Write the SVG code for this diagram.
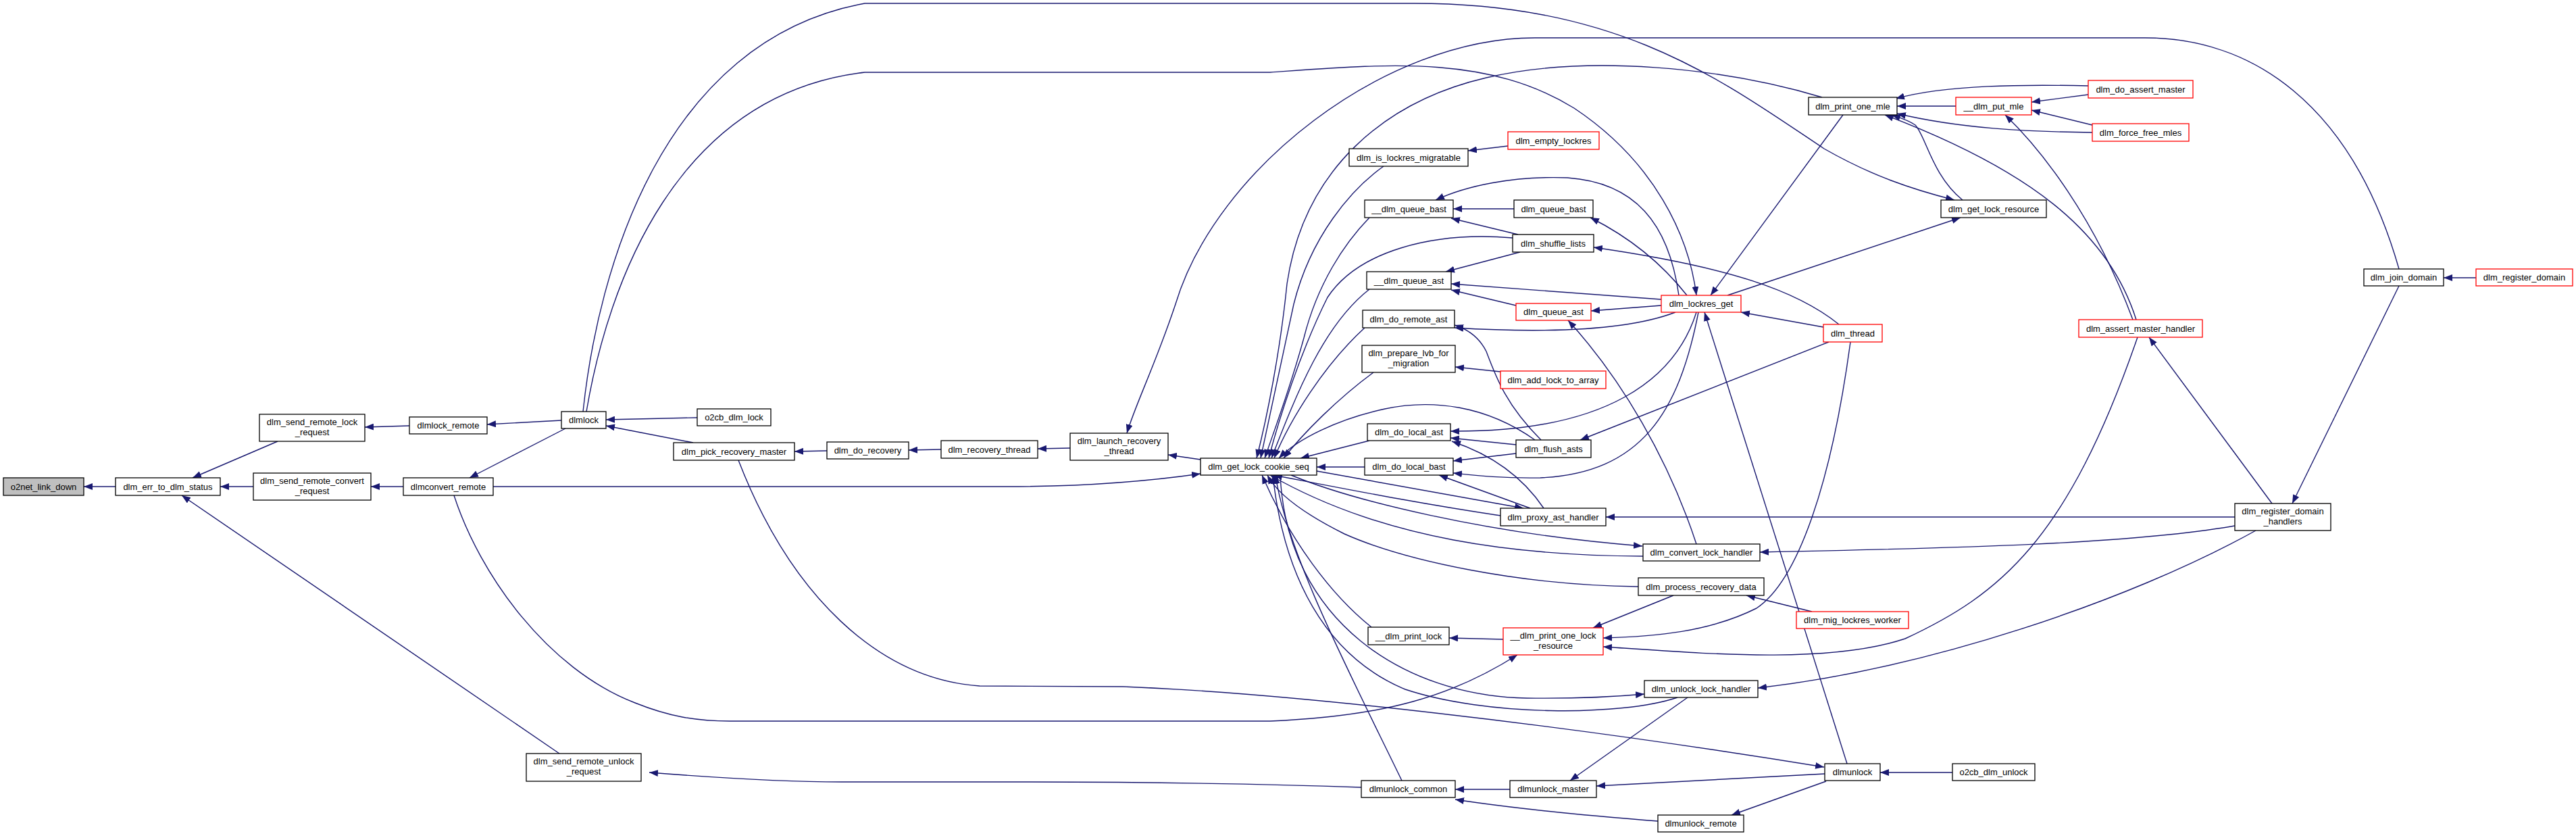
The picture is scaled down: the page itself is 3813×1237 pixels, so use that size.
<svg xmlns="http://www.w3.org/2000/svg" width="3813" height="1237" viewBox="0 0 3813 1237">
<style>
.n rect{fill:#fff;stroke:#000;stroke-width:1.3}
.r rect{stroke:#f00}
.g rect{fill:#bfbfbf}
text{font-family:"Liberation Sans",Arial,sans-serif;font-size:13px;text-anchor:middle;fill:#000}
.e path{fill:none;stroke:#191970;stroke-width:1.4;marker-end:url(#a)}
</style>
<defs>
<marker id="a" markerUnits="userSpaceOnUse" markerWidth="13" markerHeight="10" refX="13" refY="5" orient="auto"><path d="M0,0L13,5L0,10z" fill="#191970"/></marker>
</defs>
<rect width="3813" height="1237" fill="#fff"/>
<g id="edges" class="e">
<path d="M171,720L124,720"/>
<path d="M411,653L285,707"/>
<path d="M375,720L326,720"/>
<path d="M828,1115L269,733"/>
<path d="M606,630L540,632"/>
<path d="M831,622L721,628"/>
<path d="M837,634L695,707"/>
<path d="M597,720L549,720"/>
<path d="M1032,618L897,621"/>
<path d="M1026,655L897,630"/>
<path d="M1224,667L1176,668"/>
<path d="M1393,665L1345,666"/>
<path d="M1584,663L1536,664"/>
<path d="M1777,680L1729,673"/>
<path d="M730,720L1491,720C1600,720 1700,712 1777,701"/>
<path d="M672,733C710,850 810,990 940,1040C990,1060 1030,1067 1080,1067L1880,1067C2050,1060 2150,1030 2246,969"/>
<path d="M863,609C885,400 980,60 1280,5L2094,5C2400,5 2550,120 2700,220C2770,260 2830,280 2893,296"/>
<path d="M868,609C900,420 1000,140 1280,107L1880,107C2050,95 2200,80 2330,160C2450,240 2500,350 2511,437"/>
<path d="M3551,398C3480,150 3330,56 3175,56L2272,56C2050,56 1800,250 1740,450C1710,540 1680,600 1668,641"/>
<path d="M2697,144C2550,100 2350,80 2200,115C2050,150 1930,250 1905,420C1895,520 1875,620 1860,678"/>
<path d="M2048,246C2000,280 1940,350 1915,450C1895,540 1878,620 1866,678"/>
<path d="M2232,216L2173,223"/>
<path d="M2027,322C1990,360 1950,420 1930,500C1908,580 1885,640 1872,678"/>
<path d="M2239,352C2120,342 2010,372 1965,440C1925,520 1893,620 1878,678"/>
<path d="M2247,347L2148,323"/>
<path d="M2250,373L2140,402"/>
<path d="M2241,309L2151,309"/>
<path d="M2485,437C2470,330 2420,270 2320,263C2240,260 2170,275 2125,296"/>
<path d="M2497,437C2460,390 2410,350 2354,322"/>
<path d="M2728,170L2532,437"/>
<path d="M2722,480C2660,430 2560,395 2359,366"/>
<path d="M2557,437L2902,322"/>
<path d="M2905,296C2860,260 2850,200 2835,185C2825,178 2812,174 2800,170"/>
<path d="M3162,473C3120,340 3000,250 2790,170"/>
<path d="M3157,473C3100,320 3020,220 2968,170"/>
<path d="M3091,127C3000,125 2880,125 2806,146"/>
<path d="M2895,157L2808,157"/>
<path d="M3097,196C3000,195 2900,190 2808,168"/>
<path d="M3091,140L3007,151"/>
<path d="M3097,185L3007,163"/>
<path d="M3665,411L3617,411"/>
<path d="M3551,423L3393,745"/>
<path d="M3363,745L3181,499"/>
<path d="M3164,499C3060,800 2960,880 2820,945C2700,985 2500,965 2373,957"/>
<path d="M3308,765L2377,765"/>
<path d="M3308,778C3150,805 2900,811 2605,817"/>
<path d="M3339,785C3150,890 2850,990 2602,1018"/>
<path d="M2459,443L2148,420"/>
<path d="M2459,452L2355,460"/>
<path d="M2244,452L2148,429"/>
<path d="M2480,462C2420,485 2320,495 2153,485"/>
<path d="M2281,651C2230,600 2215,560 2200,520C2190,500 2175,488 2153,481"/>
<path d="M2221,550L2154,543"/>
<path d="M2699,484L2577,462"/>
<path d="M2734,1130L2523,462"/>
<path d="M2511,462C2480,560 2380,640 2147,638"/>
<path d="M2514,462C2485,610 2430,700 2280,707C2220,708 2180,703 2151,700"/>
<path d="M2511,805C2470,680 2400,560 2321,474"/>
<path d="M2707,506L2339,651"/>
<path d="M2739,506C2710,720 2660,860 2600,900C2530,935 2450,942 2373,944"/>
<path d="M2244,658L2147,648"/>
<path d="M2244,671L2151,682"/>
<path d="M2272,651C2200,600 2120,590 2050,605C1980,620 1920,650 1893,678"/>
<path d="M2027,652L1925,678"/>
<path d="M2020,691L1949,691"/>
<path d="M1949,697L2255,752"/>
<path d="M2265,752L2130,703"/>
<path d="M2285,752C2250,700 2200,670 2149,653"/>
<path d="M2221,763C2100,745 2000,725 1885,703"/>
<path d="M1911,703C2000,740 2200,790 2431,808"/>
<path d="M2432,823C2250,822 2050,800 1880,703"/>
<path d="M2425,868C2250,866 2080,830 1990,790C1930,760 1890,730 1876,703"/>
<path d="M2682,905L2585,881"/>
<path d="M2477,881L2358,929"/>
<path d="M2225,946L2145,944"/>
<path d="M2030,928C1970,880 1910,800 1868,703"/>
<path d="M1895,703C1905,920 2080,1030 2260,1033C2340,1034 2390,1031 2434,1027"/>
<path d="M2483,1032C2400,1060 2200,1060 2080,1020C1960,970 1900,850 1884,703"/>
<path d="M2498,1032L2324,1155"/>
<path d="M2075,1155C2000,1000 1905,820 1888,703"/>
<path d="M2015,1165C1900,1161 1700,1157 1500,1157L1246,1157C1150,1157 1050,1150 961,1143"/>
<path d="M2235,1168L2154,1168"/>
<path d="M2454,1215C2300,1203 2200,1190 2154,1183"/>
<path d="M2701,1145L2363,1163"/>
<path d="M2703,1156L2563,1206"/>
<path d="M2890,1143L2783,1143"/>
<path d="M1093,681C1170,880 1300,1005 1450,1015L1662,1016C1900,1025 2300,1070 2700,1135"/>
<path d="M2027,428C1960,480 1920,580 1882,678"/>
<path d="M2020,485C1960,540 1910,620 1886,678"/>
<path d="M2033,551C1980,590 1930,640 1900,678"/>
</g>
<g id="n_o2net_link_down" class="n g"><rect x="5" y="707" width="119" height="26"/><text x="64.5" y="724.5">o2net_link_down</text></g>
<g id="n_dlm_err_to_dlm_status" class="n"><rect x="171" y="707" width="155" height="26"/><text x="248.5" y="724.5">dlm_err_to_dlm_status</text></g>
<g id="n_dlm_send_remote_lock_request" class="n"><rect x="384" y="613" width="156" height="40"/><text x="462" y="629">dlm_send_remote_lock</text><text x="462" y="644">_request</text></g>
<g id="n_dlmlock_remote" class="n"><rect x="606" y="617" width="115" height="25"/><text x="663.5" y="634">dlmlock_remote</text></g>
<g id="n_dlmlock" class="n"><rect x="831" y="609" width="66" height="25"/><text x="864" y="626">dlmlock</text></g>
<g id="n_dlm_send_remote_convert_request" class="n"><rect x="375" y="700" width="174" height="40"/><text x="462" y="716">dlm_send_remote_convert</text><text x="462" y="731">_request</text></g>
<g id="n_dlmconvert_remote" class="n"><rect x="597" y="707" width="133" height="26"/><text x="663.5" y="724.5">dlmconvert_remote</text></g>
<g id="n_dlm_send_remote_unlock_request" class="n"><rect x="779" y="1115" width="170" height="41"/><text x="864" y="1131">dlm_send_remote_unlock</text><text x="864" y="1146">_request</text></g>
<g id="n_o2cb_dlm_lock" class="n"><rect x="1032" y="605" width="109" height="25"/><text x="1086.5" y="622">o2cb_dlm_lock</text></g>
<g id="n_dlm_pick_recovery_master" class="n"><rect x="997" y="655" width="179" height="26"/><text x="1086.5" y="672.5">dlm_pick_recovery_master</text></g>
<g id="n_dlm_do_recovery" class="n"><rect x="1224" y="654" width="121" height="25"/><text x="1284.5" y="671">dlm_do_recovery</text></g>
<g id="n_dlm_recovery_thread" class="n"><rect x="1393" y="652" width="143" height="26"/><text x="1464.5" y="669.5">dlm_recovery_thread</text></g>
<g id="n_dlm_launch_recovery_thread" class="n"><rect x="1584" y="641" width="145" height="40"/><text x="1656.5" y="657">dlm_launch_recovery</text><text x="1656.5" y="672">_thread</text></g>
<g id="n_dlm_get_lock_cookie_seq" class="n"><rect x="1777" y="678" width="172" height="25"/><text x="1863" y="695">dlm_get_lock_cookie_seq</text></g>
<g id="n_dlm_is_lockres_migratable" class="n"><rect x="1997" y="220" width="176" height="26"/><text x="2085" y="237.5">dlm_is_lockres_migratable</text></g>
<g id="n_dlm_empty_lockres" class="n r"><rect x="2232" y="195" width="135" height="26"/><text x="2299.5" y="212.5">dlm_empty_lockres</text></g>
<g id="n___dlm_queue_bast" class="n"><rect x="2020" y="296" width="131" height="26"/><text x="2085.5" y="313.5">__dlm_queue_bast</text></g>
<g id="n_dlm_queue_bast" class="n"><rect x="2241" y="296" width="117" height="26"/><text x="2299.5" y="313.5">dlm_queue_bast</text></g>
<g id="n_dlm_shuffle_lists" class="n"><rect x="2239" y="347" width="120" height="26"/><text x="2299" y="364.5">dlm_shuffle_lists</text></g>
<g id="n___dlm_queue_ast" class="n"><rect x="2023" y="402" width="125" height="26"/><text x="2085.5" y="419.5">__dlm_queue_ast</text></g>
<g id="n_dlm_queue_ast" class="n r"><rect x="2244" y="449" width="111" height="25"/><text x="2299.5" y="466">dlm_queue_ast</text></g>
<g id="n_dlm_lockres_get" class="n r"><rect x="2459" y="437" width="118" height="25"/><text x="2518" y="454">dlm_lockres_get</text></g>
<g id="n_dlm_do_remote_ast" class="n"><rect x="2017" y="459" width="136" height="26"/><text x="2085" y="476.5">dlm_do_remote_ast</text></g>
<g id="n_dlm_prepare_lvb_for_migration" class="n"><rect x="2016" y="511" width="138" height="40"/><text x="2085" y="527">dlm_prepare_lvb_for</text><text x="2085" y="542">_migration</text></g>
<g id="n_dlm_add_lock_to_array" class="n r"><rect x="2221" y="549" width="156" height="26"/><text x="2299" y="566.5">dlm_add_lock_to_array</text></g>
<g id="n_dlm_thread" class="n r"><rect x="2699" y="480" width="87" height="26"/><text x="2742.5" y="497.5">dlm_thread</text></g>
<g id="n_dlm_do_local_ast" class="n"><rect x="2024" y="627" width="123" height="25"/><text x="2085.5" y="644">dlm_do_local_ast</text></g>
<g id="n_dlm_flush_asts" class="n"><rect x="2244" y="651" width="111" height="26"/><text x="2299.5" y="668.5">dlm_flush_asts</text></g>
<g id="n_dlm_do_local_bast" class="n"><rect x="2020" y="678" width="131" height="25"/><text x="2085.5" y="695">dlm_do_local_bast</text></g>
<g id="n_dlm_proxy_ast_handler" class="n"><rect x="2221" y="752" width="156" height="26"/><text x="2299" y="769.5">dlm_proxy_ast_handler</text></g>
<g id="n_dlm_convert_lock_handler" class="n"><rect x="2432" y="805" width="173" height="25"/><text x="2518.5" y="822">dlm_convert_lock_handler</text></g>
<g id="n_dlm_process_recovery_data" class="n"><rect x="2425" y="855" width="186" height="26"/><text x="2518" y="872.5">dlm_process_recovery_data</text></g>
<g id="n_dlm_mig_lockres_worker" class="n r"><rect x="2659" y="905" width="166" height="25"/><text x="2742" y="922">dlm_mig_lockres_worker</text></g>
<g id="n___dlm_print_lock" class="n"><rect x="2025" y="928" width="120" height="26"/><text x="2085" y="945.5">__dlm_print_lock</text></g>
<g id="n___dlm_print_one_lock_resource" class="n r"><rect x="2225" y="929" width="148" height="40"/><text x="2299" y="945">__dlm_print_one_lock</text><text x="2299" y="960">_resource</text></g>
<g id="n_dlm_unlock_lock_handler" class="n"><rect x="2434" y="1007" width="168" height="25"/><text x="2518" y="1024">dlm_unlock_lock_handler</text></g>
<g id="n_dlmunlock" class="n"><rect x="2701" y="1130" width="82" height="25"/><text x="2742" y="1147">dlmunlock</text></g>
<g id="n_dlmunlock_common" class="n"><rect x="2015" y="1155" width="139" height="25"/><text x="2084.5" y="1172">dlmunlock_common</text></g>
<g id="n_dlmunlock_master" class="n"><rect x="2235" y="1155" width="128" height="25"/><text x="2299" y="1172">dlmunlock_master</text></g>
<g id="n_dlmunlock_remote" class="n"><rect x="2454" y="1206" width="127" height="25"/><text x="2517.5" y="1223">dlmunlock_remote</text></g>
<g id="n_o2cb_dlm_unlock" class="n"><rect x="2890" y="1130" width="122" height="25"/><text x="2951" y="1147">o2cb_dlm_unlock</text></g>
<g id="n_dlm_print_one_mle" class="n"><rect x="2677" y="144" width="131" height="26"/><text x="2742.5" y="161.5">dlm_print_one_mle</text></g>
<g id="n___dlm_put_mle" class="n r"><rect x="2895" y="144" width="112" height="26"/><text x="2951" y="161.5">__dlm_put_mle</text></g>
<g id="n_dlm_do_assert_master" class="n r"><rect x="3091" y="119" width="155" height="26"/><text x="3168.5" y="136.5">dlm_do_assert_master</text></g>
<g id="n_dlm_force_free_mles" class="n r"><rect x="3097" y="183" width="143" height="26"/><text x="3168.5" y="200.5">dlm_force_free_mles</text></g>
<g id="n_dlm_get_lock_resource" class="n"><rect x="2873" y="296" width="156" height="26"/><text x="2951" y="313.5">dlm_get_lock_resource</text></g>
<g id="n_dlm_join_domain" class="n"><rect x="3499" y="398" width="118" height="25"/><text x="3558" y="415">dlm_join_domain</text></g>
<g id="n_dlm_register_domain" class="n r"><rect x="3665" y="398" width="143" height="25"/><text x="3736.5" y="415">dlm_register_domain</text></g>
<g id="n_dlm_assert_master_handler" class="n r"><rect x="3077" y="473" width="183" height="26"/><text x="3168.5" y="490.5">dlm_assert_master_handler</text></g>
<g id="n_dlm_register_domain_handlers" class="n"><rect x="3308" y="745" width="142" height="40"/><text x="3379" y="761">dlm_register_domain</text><text x="3379" y="776">_handlers</text></g>
</svg>
